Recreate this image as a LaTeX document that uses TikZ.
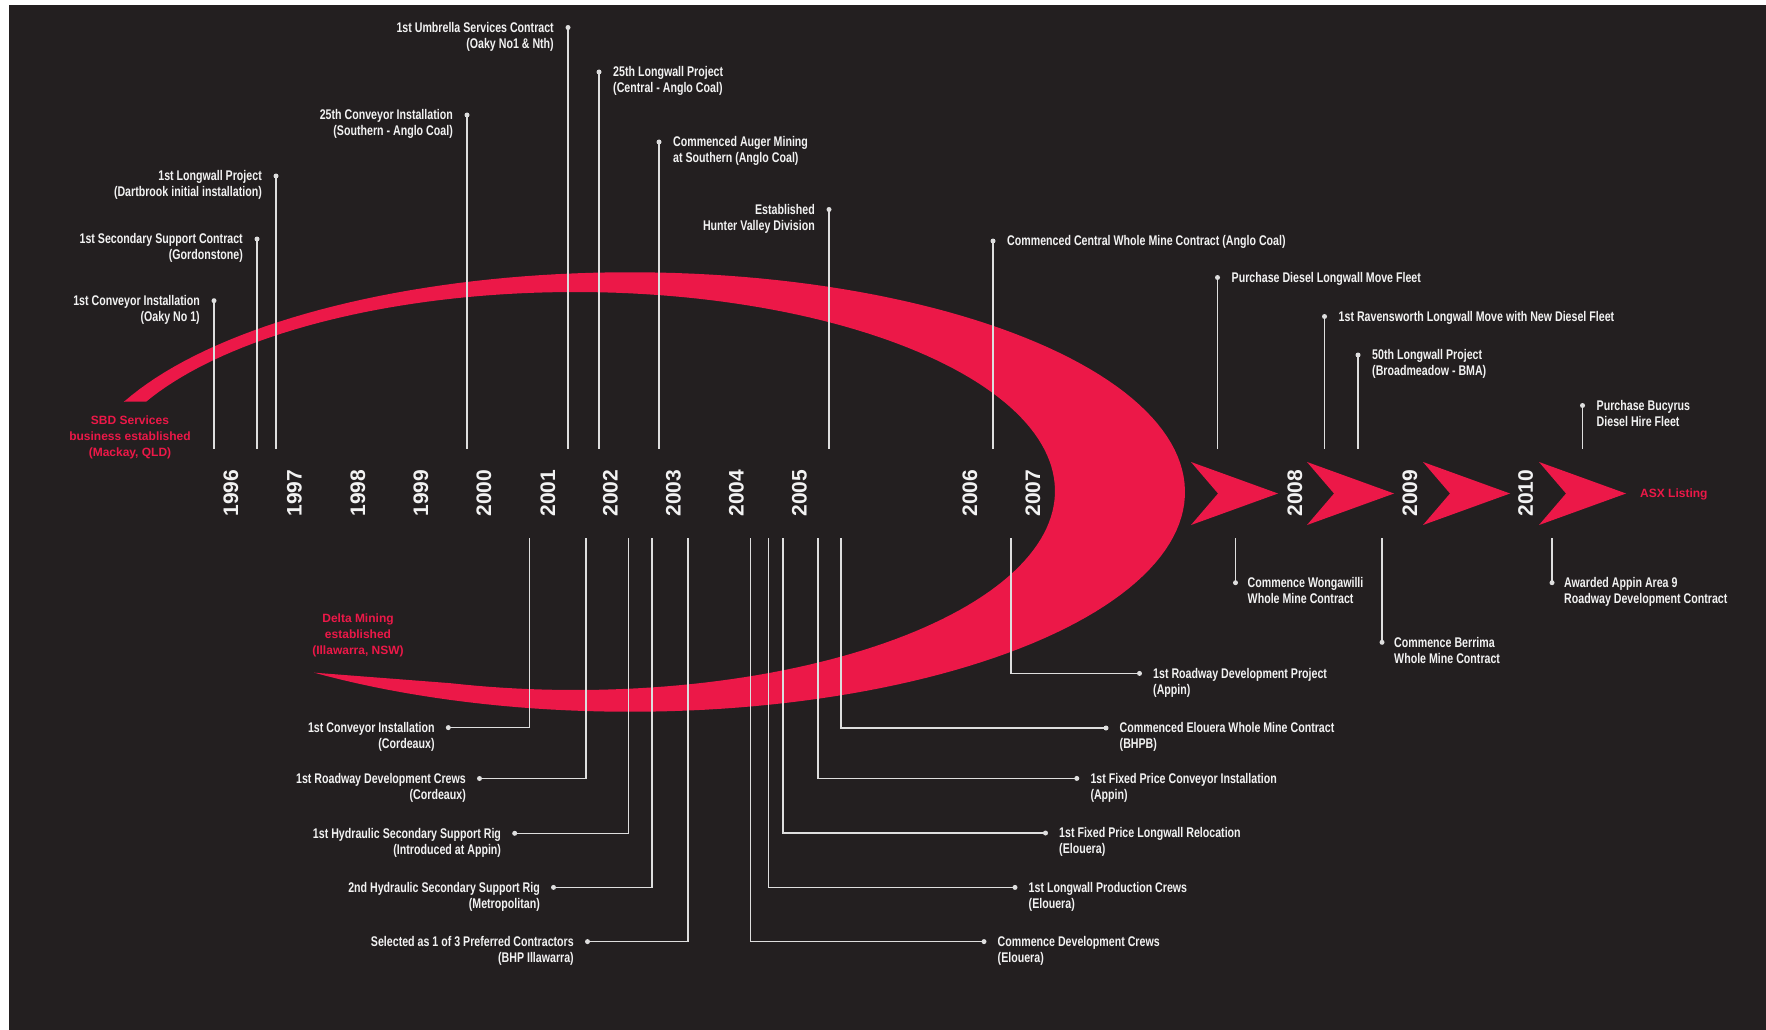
\documentclass[tikz,border=0pt]{standalone}
\usepackage{fontspec}
\setmainfont{Liberation Sans}
\newfontfamily\condb{Liberation Sans}[FakeStretch=0.76]
\usetikzlibrary{calc}
\definecolor{bg}{RGB}{35,31,32}
\definecolor{crim}{RGB}{236,24,72}
\definecolor{txt}{RGB}{242,242,242}
\definecolor{ln}{RGB}{222,222,222}
% top events: text on the left / right of the dot
\newcommand\evtL[4]{%
  \node[dot] (d#1) at (#2,#3) {};
  \coordinate (e#1) at (#2,449);
  \draw[conn] (e#1) -- (d#1.center);
  \node[lblL] (n#1) at ($(d#1)+(-14,-6.5)$) {\strut #4};}
\newcommand\evtR[4]{%
  \node[dot] (d#1) at (#2,#3) {};
  \coordinate (e#1) at (#2,449);
  \draw[conn] (e#1) -- (d#1.center);
  \node[lblR] (n#1) at ($(d#1)+(14,-6.5)$) {\strut #4};}
% bottom events with elbow connectors
\newcommand\evtBL[5]{%
  \coordinate (s#1) at (#2,538.4);
  \node[dot] (d#1) at (#4,#3) {};
  \draw[conn] (s#1) |- (d#1.center);
  \node[lblL] (n#1) at ($(d#1)+(-13.5,-6.5)$) {\strut #5};}
\newcommand\evtBR[5]{%
  \coordinate (s#1) at (#2,538.4);
  \node[dot] (d#1) at (#4,#3) {};
  \draw[conn] (s#1) |- (d#1.center);
  \node[lblR] (n#1) at ($(d#1)+(13.5,-6.5)$) {\strut #5};}
\newcommand\evtS[4]{%
  \coordinate (s#1) at (#2,538.4);
  \node[dot] (d#1) at (#2,#3) {};
  \draw[conn] (s#1) -- (d#1.center);
  \node[lblR] (n#1) at ($(d#1)+(12,-6.5)$) {\strut #4};}
\begin{document}
\begin{tikzpicture}[x=1pt,y=-1pt,
  lbl/.style={text=txt, font=\condb\bfseries\fontsize{14}{16}\selectfont, inner sep=0pt},
  lblL/.style={lbl, anchor=north east, align=right},
  lblR/.style={lbl, anchor=north west, align=left},
  yr/.style={text=txt, font=\bfseries\fontsize{21}{21}\selectfont, rotate=90, inner sep=0pt},
  redt/.style={text=crim, font=\bfseries\fontsize{12}{16}\selectfont, inner sep=0pt, align=center, anchor=north},
  dot/.style={circle, fill=ln, inner sep=0pt, minimum size=5pt},
  conn/.style={draw=ln, line width=1.6pt},
]
\useasboundingbox (0,0) rectangle (1766,1030);
\fill[white] (0,0) rectangle (1766,1030);
\fill[bg] (9,5) rectangle (1766,1030);

% crescent
\fill[crim] plot[domain=204.25:484.7, samples=160] ({630+555*cos(\x)},{492+219.75*sin(\x)})
  -- plot[domain=0:1, samples=160] ({575+480*cos(105-258.45*\x)},{491+199*sin(105-258.45*\x)})
  -- cycle;

% chevrons
\foreach \cx in {1191,1307,1423,1539}
  \fill[crim] (\cx,462) -- (\cx+87,493.5) -- (\cx,525) -- (\cx+27,493.5) -- cycle;

% years
\foreach \yx/\yl in {231/1996, 294.5/1997, 358/1998, 421/1999, 484/2000, 548/2001,
  610.5/2002, 673.5/2003, 736.5/2004, 799.5/2005, 970/2006, 1033/2007,
  1295/2008, 1410/2009, 1525.5/2010}
  \node[yr] (y\yl) at (\yx,493) {\yl};

% top events
\evtL{1}{214}{300.7}{1st Conveyor Installation\\(Oaky No 1)}
\evtL{2}{257}{239}{1st Secondary Support Contract\\(Gordonstone)}
\evtL{3}{276}{176}{1st Longwall Project\\(Dartbrook initial installation)}
\evtL{4}{467}{115}{25th Conveyor Installation\\(Southern - Anglo Coal)}
\evtL{5}{568}{27.5}{1st Umbrella Services Contract\\(Oaky No1 \& Nth)}
\evtR{6}{599}{72}{25th Longwall Project\\(Central - Anglo Coal)}
\evtR{7}{659}{142}{Commenced Auger Mining\\at Southern (Anglo Coal)}
\evtL{8}{829}{209.5}{Established\\Hunter Valley Division}
\evtR{9}{993}{241}{Commenced Central Whole Mine Contract (Anglo Coal)}
\evtR{10}{1217.5}{277.5}{Purchase Diesel Longwall Move Fleet}
\evtR{11}{1324.5}{316.5}{1st Ravensworth Longwall Move with New Diesel Fleet}
\evtR{12}{1358}{355}{50th Longwall Project\\(Broadmeadow - BMA)}
\evtR{13}{1582.5}{405.5}{Purchase Bucyrus\\Diesel Hire Fleet}

% bottom events
\evtBL{a}{529.4}{727.6}{448.3}{1st Conveyor Installation\\(Cordeaux)}
\evtBL{b}{585.7}{778.5}{479.5}{1st Roadway Development Crews\\(Cordeaux)}
\evtBL{c}{628.5}{833.3}{514.7}{1st Hydraulic Secondary Support Rig\\(Introduced at Appin)}
\evtBL{d}{652}{887.4}{553.5}{2nd Hydraulic Secondary Support Rig\\(Metropolitan)}
\evtBL{e}{688.2}{941.6}{587.5}{Selected as 1 of 3 Preferred Contractors\\(BHP Illawarra)}
\evtBR{f}{750.5}{941.6}{984}{Commence Development Crews\\(Elouera)}
\evtBR{g}{768.5}{887.4}{1015}{1st Longwall Production Crews\\(Elouera)}
\evtBR{h}{783.2}{833}{1045.5}{1st Fixed Price Longwall Relocation\\(Elouera)}
\evtBR{i}{817.8}{778.4}{1076.8}{1st Fixed Price Conveyor Installation\\(Appin)}
\evtBR{j}{841}{728}{1106}{Commenced Elouera Whole Mine Contract\\(BHPB)}
\evtBR{k}{1011}{673.4}{1139.5}{1st Roadway Development Project\\(Appin)}
\evtS{l}{1235.5}{582.7}{Commence Wongawilli\\Whole Mine Contract}
\evtS{m}{1382}{642.3}{Commence Berrima\\Whole Mine Contract}
\evtS{n}{1552}{582.7}{Awarded Appin Area 9\\Roadway Development Contract}

% red labels
\node[redt] (sbd) at (130,413) {\strut SBD Services\\business established\\(Mackay, QLD)};
\node[redt] (delta) at (358,611) {\strut Delta Mining\\established\\(Illawarra, NSW)};
\node[text=crim, font=\bfseries\fontsize{12}{16}\selectfont, inner sep=0pt, anchor=base west] (asx) at (1640,497.8) {ASX Listing};
\end{tikzpicture}
\end{document}
